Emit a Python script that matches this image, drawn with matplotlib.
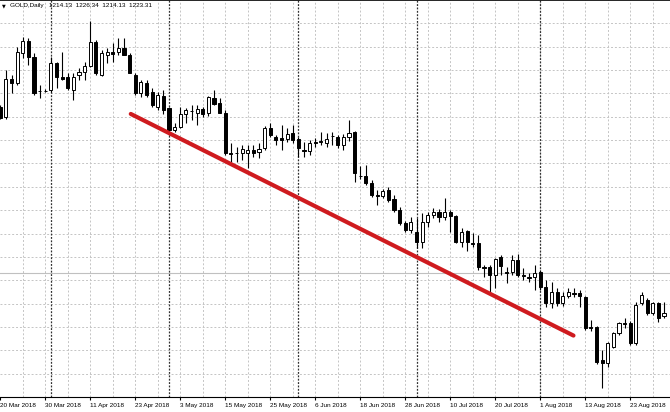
import numpy as np
import pandas as pd
import matplotlib
matplotlib.use('Agg')
import matplotlib.pyplot as plt

# GOLD daily bars, 20 Mar 2018 .. 31 Aug 2018
dates = pd.bdate_range('2018-03-20', '2018-08-31')

opens = [1317.1, 1311.5, 1332.8, 1330.5, 1347.3, 1354.0, 1345.1, 1326.0, 1326.0, 1326.6,
         1341.7, 1333.9, 1333.9, 1326.6, 1335.0, 1336.7, 1340.0, 1353.5, 1335.0, 1346.2,
         1347.9, 1347.9, 1350.1, 1346.2, 1335.0, 1324.9, 1330.5, 1325.5, 1317.1, 1323.2,
         1316.5, 1304.2, 1305.9, 1313.2, 1314.8, 1313.7, 1316.0, 1313.7, 1322.1, 1319.3,
         1313.7, 1291.3, 1291.3, 1291.3, 1291.3, 1293.0, 1291.9, 1294.1, 1305.3, 1300.3,
         1299.7, 1299.2, 1302.5, 1299.2, 1293.0, 1292.4, 1297.5, 1297.5, 1296.9, 1300.6,
         1300.3, 1295.8, 1300.3, 1303.1, 1278.4, 1278.4, 1274.5, 1267.8, 1267.2, 1270.6,
         1265.6, 1259.4, 1252.1, 1248.2, 1247.1, 1241.5, 1252.7, 1256.6, 1258.3, 1255.5,
         1258.3, 1256.0, 1241.5, 1247.6, 1240.9, 1240.9, 1227.5, 1227.5, 1223.0, 1233.1,
         1224.7, 1224.7, 1231.4, 1223.0, 1221.9, 1221.9, 1224.7, 1216.3, 1207.3, 1213.5,
         1207.3, 1211.2, 1212.9, 1212.9, 1210.7, 1193.9, 1193.9, 1175.6, 1173.7, 1182.7,
         1190.5, 1196.1, 1196.1, 1184.9, 1207.3, 1209.0, 1201.7, 1207.3, 1200.0]
highs = [1318.2, 1337.8, 1335.0, 1350.7, 1356.3, 1355.7, 1347.3, 1329.4, 1327.2, 1345.1,
         1342.3, 1347.9, 1336.1, 1336.1, 1338.9, 1342.3, 1365.2, 1354.6, 1349.0, 1350.1,
         1352.9, 1355.7, 1355.7, 1347.3, 1336.1, 1332.2, 1332.2, 1327.7, 1325.5, 1326.6,
         1317.1, 1308.1, 1317.1, 1316.5, 1318.2, 1318.2, 1317.1, 1323.2, 1326.6, 1322.1,
         1315.4, 1296.9, 1294.7, 1295.8, 1295.8, 1295.8, 1296.9, 1306.4, 1308.1, 1301.4,
         1307.0, 1305.3, 1307.0, 1300.3, 1297.5, 1298.6, 1299.7, 1303.1, 1302.5, 1303.1,
         1301.4, 1302.0, 1309.8, 1303.4, 1284.0, 1284.6, 1276.2, 1270.6, 1271.2, 1272.3,
         1267.8, 1261.1, 1253.2, 1255.5, 1254.9, 1257.7, 1258.3, 1260.5, 1260.0, 1266.1,
         1259.4, 1256.6, 1249.3, 1248.2, 1246.5, 1245.4, 1228.6, 1228.6, 1232.5, 1234.2,
         1227.5, 1234.2, 1234.8, 1226.9, 1224.1, 1228.6, 1225.8, 1220.2, 1219.1, 1215.7,
         1213.5, 1215.7, 1215.7, 1214.6, 1211.2, 1197.8, 1194.4, 1181.0, 1185.5, 1191.1,
         1196.7, 1198.9, 1197.2, 1207.9, 1213.5, 1210.1, 1207.9, 1207.9, 1207.9]
lows = [1310.4, 1310.4, 1324.9, 1329.4, 1344.5, 1340.6, 1323.8, 1322.1, 1325.5, 1325.5,
        1327.7, 1332.2, 1326.6, 1321.0, 1332.2, 1332.2, 1339.5, 1335.0, 1334.4, 1341.7,
        1342.3, 1346.2, 1346.2, 1336.1, 1323.8, 1322.7, 1322.7, 1317.1, 1315.4, 1313.2,
        1301.4, 1303.1, 1305.3, 1308.1, 1309.8, 1307.0, 1311.5, 1312.0, 1318.2, 1313.7,
        1290.2, 1286.3, 1286.3, 1287.4, 1282.9, 1289.1, 1288.5, 1293.0, 1300.3, 1295.8,
        1293.0, 1297.5, 1296.9, 1289.1, 1289.1, 1290.2, 1294.7, 1295.8, 1294.7, 1295.8,
        1294.1, 1293.0, 1298.0, 1275.1, 1276.8, 1273.4, 1266.7, 1262.2, 1266.1, 1263.9,
        1258.3, 1251.0, 1247.1, 1246.5, 1238.1, 1238.1, 1249.9, 1254.9, 1252.7, 1253.8,
        1247.1, 1240.9, 1238.7, 1236.4, 1238.7, 1225.8, 1221.9, 1213.5, 1215.7, 1223.0,
        1218.5, 1223.0, 1221.9, 1220.2, 1219.1, 1214.6, 1214.6, 1205.1, 1204.5, 1205.6,
        1205.6, 1210.1, 1210.7, 1205.1, 1192.2, 1191.6, 1173.2, 1159.7, 1171.5, 1182.1,
        1189.4, 1193.3, 1183.8, 1183.8, 1206.2, 1200.6, 1200.6, 1196.7, 1198.9]
closes = [1310.9, 1332.8, 1330.5, 1347.9, 1354.0, 1345.1, 1324.9, 1325.8, 1325.9, 1341.7,
          1333.9, 1332.8, 1327.7, 1333.9, 1336.7, 1340.0, 1353.5, 1336.1, 1347.3, 1347.9,
          1346.8, 1350.1, 1346.2, 1336.1, 1324.9, 1331.1, 1323.8, 1318.2, 1323.8, 1315.4,
          1304.2, 1305.9, 1313.2, 1315.4, 1314.6, 1316.0, 1313.2, 1322.7, 1318.8, 1313.7,
          1291.3, 1291.0, 1291.1, 1293.6, 1293.0, 1291.3, 1293.6, 1305.3, 1301.4, 1298.6,
          1298.6, 1302.0, 1298.6, 1294.1, 1292.4, 1296.9, 1297.2, 1297.8, 1299.2, 1300.8,
          1295.8, 1300.3, 1302.5, 1280.1, 1278.2, 1274.5, 1267.8, 1267.5, 1270.0, 1265.0,
          1259.4, 1252.1, 1248.2, 1252.7, 1241.5, 1252.7, 1256.6, 1258.3, 1255.5, 1258.3,
          1256.0, 1241.5, 1247.1, 1241.5, 1240.6, 1227.5, 1226.9, 1223.0, 1232.0, 1228.0,
          1224.4, 1231.4, 1223.0, 1222.7, 1221.6, 1224.1, 1216.3, 1207.3, 1213.5, 1207.3,
          1211.2, 1213.5, 1212.6, 1211.2, 1193.3, 1193.6, 1174.3, 1174.0, 1184.9, 1190.5,
          1196.1, 1195.8, 1184.9, 1206.2, 1211.8, 1201.7, 1207.3, 1198.9, 1201.7]

# hand-drawn trend line (bar position, price)
trend_x = [23.2, 101.9]
trend_y = [1313.2, 1189.1]
bid_price = 1224.3
header = 'GOLD,Daily   1214.13  1226.34  1214.13  1223.31'

o = np.array(opens)
h = np.array(highs)
l = np.array(lows)
c = np.array(closes)
x = np.arange(len(dates))

fig = plt.figure(figsize=(6.7, 4.12), dpi=100)
ax = fig.add_axes([0, 15 / 412, 1, 397 / 412])
ax.set_xlim(-0.05, 119.06)
ax.set_ylim(1154.7, 1377.0)

fonts = ['Liberation Sans', 'DejaVu Sans']

# grid
grid_kw = dict(color='#c4c4c4', lw=0.7, ls=(0, (2, 2)), zorder=0)
for k in range(1, 30):
    ax.axvline(4 * k, **grid_kw)
y0, y1 = ax.get_ylim()
for k in range(1, 17):
    ax.axhline(y0 + k * (y1 - y0) / 17, **grid_kw)

# month separators
month_start = [i for i in range(1, len(dates)) if dates[i].month != dates[i - 1].month]
for i in month_start:
    ax.axvline(i, color='#303030', lw=0.9, ls=(0, (1.5, 1.2)), zorder=1)

ax.axhline(bid_price, color='#c0c0c0', lw=0.8, zorder=1)

# candles
ax.vlines(x, l, h, color='black', lw=0.8, zorder=2)
up = c >= o
body_lo = np.minimum(o, c)
body_h = np.abs(c - o)
ax.bar(x, body_h, bottom=body_lo, width=0.55,
       color=np.where(up, 'white', 'black'), edgecolor='black', lw=0.7, zorder=3)

ax.plot(trend_x, trend_y, color='#cf1b1f', lw=3.0, solid_capstyle='round', zorder=5)

# axes styling
for side in ['left', 'right']:
    ax.spines[side].set_visible(False)
ax.spines['top'].set_linewidth(1.2)
ax.spines['bottom'].set_linewidth(0.8)
ax.set_yticks([])
tick_pos = list(range(0, len(dates), 8))
ax.set_xticks(tick_pos)
ax.set_xticklabels([f'{dates[i].day} {dates[i]:%b %Y}' for i in tick_pos],
                   ha='left', family=fonts, fontsize=4.6)
ax.tick_params(axis='x', length=2.5, width=0.8, pad=1.5, colors='black')

fig.text(2 / 670, 1 - 6 / 412, '\u25bc', fontsize=3.5, va='center', ha='left')
fig.text(10 / 670, 1 - 6 / 412, header, fontsize=4.6, va='center', ha='left', family=fonts)

fig.savefig('out.png', dpi=100)
